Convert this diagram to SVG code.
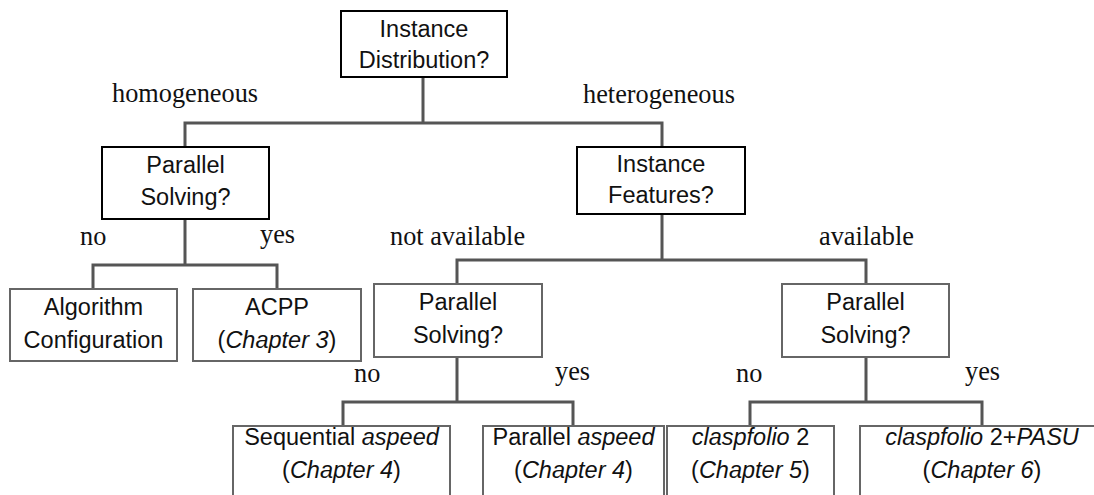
<svg xmlns="http://www.w3.org/2000/svg" width="1094" height="495" viewBox="0 0 1094 495">
<style>
.bg{fill:#fff}
.dec{fill:#fff;stroke:#000;stroke-width:2}
.sub{fill:#fff;stroke:#666;stroke-width:2}
.conn{fill:none;stroke:#555;stroke-width:3}
.t{font-family:"Liberation Sans",Arial,sans-serif;font-size:23.5px;fill:#111;text-anchor:middle}
.lbl{font-family:"Liberation Serif","Times New Roman",serif;font-size:26.3px;fill:#111}
.i{font-style:italic}
</style>
<rect class="bg" x="0" y="0" width="1094" height="495"/>
<g id="connectors">
<path class="conn" d="M423 77V123M185 147V123H662V147"/>
<path class="conn" d="M185 219V265M93 289V265H277V289"/>
<path class="conn" d="M662 214V260M457 284V260H866V284"/>
<path class="conn" d="M457 357V402M343 426V402H573V426"/>
<path class="conn" d="M866 357V402M750 426V402H982V426"/>
</g>
<g id="labels">
<text class="lbl" x="112" y="102">homogeneous</text>
<text class="lbl" x="583" y="103">heterogeneous</text>
<text class="lbl" x="80" y="245">no</text>
<text class="lbl" x="260" y="243">yes</text>
<text class="lbl" x="390" y="245">not available</text>
<text class="lbl" x="819" y="245">available</text>
<text class="lbl" x="354" y="382">no</text>
<text class="lbl" x="555" y="380">yes</text>
<text class="lbl" x="736" y="382">no</text>
<text class="lbl" x="965" y="380">yes</text>
</g>
<g id="n-distribution">
<rect class="dec" x="341" y="11" width="166" height="66"/>
<text class="t" x="424" y="37">Instance</text>
<text class="t" x="424" y="68">Distribution?</text>
</g>
<g id="n-parallel1">
<rect class="dec" x="102" y="147" width="167" height="72"/>
<text class="t" x="185.5" y="173">Parallel</text>
<text class="t" x="185.5" y="205">Solving?</text>
</g>
<g id="n-features">
<rect class="dec" x="577" y="147" width="168" height="67"/>
<text class="t" x="661" y="172">Instance</text>
<text class="t" x="661" y="203">Features?</text>
</g>
<g id="n-algconf">
<rect class="sub" x="10" y="289" width="167" height="72"/>
<text class="t" x="93.5" y="315">Algorithm</text>
<text class="t" x="93.5" y="348">Configuration</text>
</g>
<g id="n-acpp">
<rect class="sub" x="193" y="289" width="168" height="72"/>
<text class="t" x="277" y="315">ACPP</text>
<text class="t" x="277" y="348">(<tspan class="i">Chapter 3</tspan>)</text>
</g>
<g id="n-parallel2">
<rect class="sub" x="374" y="284" width="168" height="73"/>
<text class="t" x="458" y="310">Parallel</text>
<text class="t" x="458" y="343">Solving?</text>
</g>
<g id="n-parallel3">
<rect class="sub" x="782" y="284" width="167" height="73"/>
<text class="t" x="865.5" y="310">Parallel</text>
<text class="t" x="865.5" y="343">Solving?</text>
</g>
<g id="n-seqaspeed">
<rect class="sub" x="233" y="426" width="217" height="90"/>
<text class="t" x="341.5" y="445">Sequential <tspan class="i">aspeed</tspan></text>
<text class="t" x="341.5" y="478">(<tspan class="i">Chapter 4</tspan>)</text>
</g>
<g id="n-paraspeed">
<rect class="sub" x="483" y="426" width="181" height="90"/>
<text class="t" x="573.5" y="445">Parallel <tspan class="i">aspeed</tspan></text>
<text class="t" x="573.5" y="478">(<tspan class="i">Chapter 4</tspan>)</text>
</g>
<g id="n-claspfolio">
<rect class="sub" x="667" y="426" width="167" height="90"/>
<text class="t" x="750.5" y="445"><tspan class="i">claspfolio</tspan> 2</text>
<text class="t" x="750.5" y="478">(<tspan class="i">Chapter 5</tspan>)</text>
</g>
<g id="n-pasu">
<rect class="sub" x="860" y="426" width="250" height="90"/>
<text class="t" x="982" y="445"><tspan class="i">claspfolio</tspan> 2+<tspan class="i">PASU</tspan></text>
<text class="t" x="982" y="478">(<tspan class="i">Chapter 6</tspan>)</text>
</g>
</svg>
